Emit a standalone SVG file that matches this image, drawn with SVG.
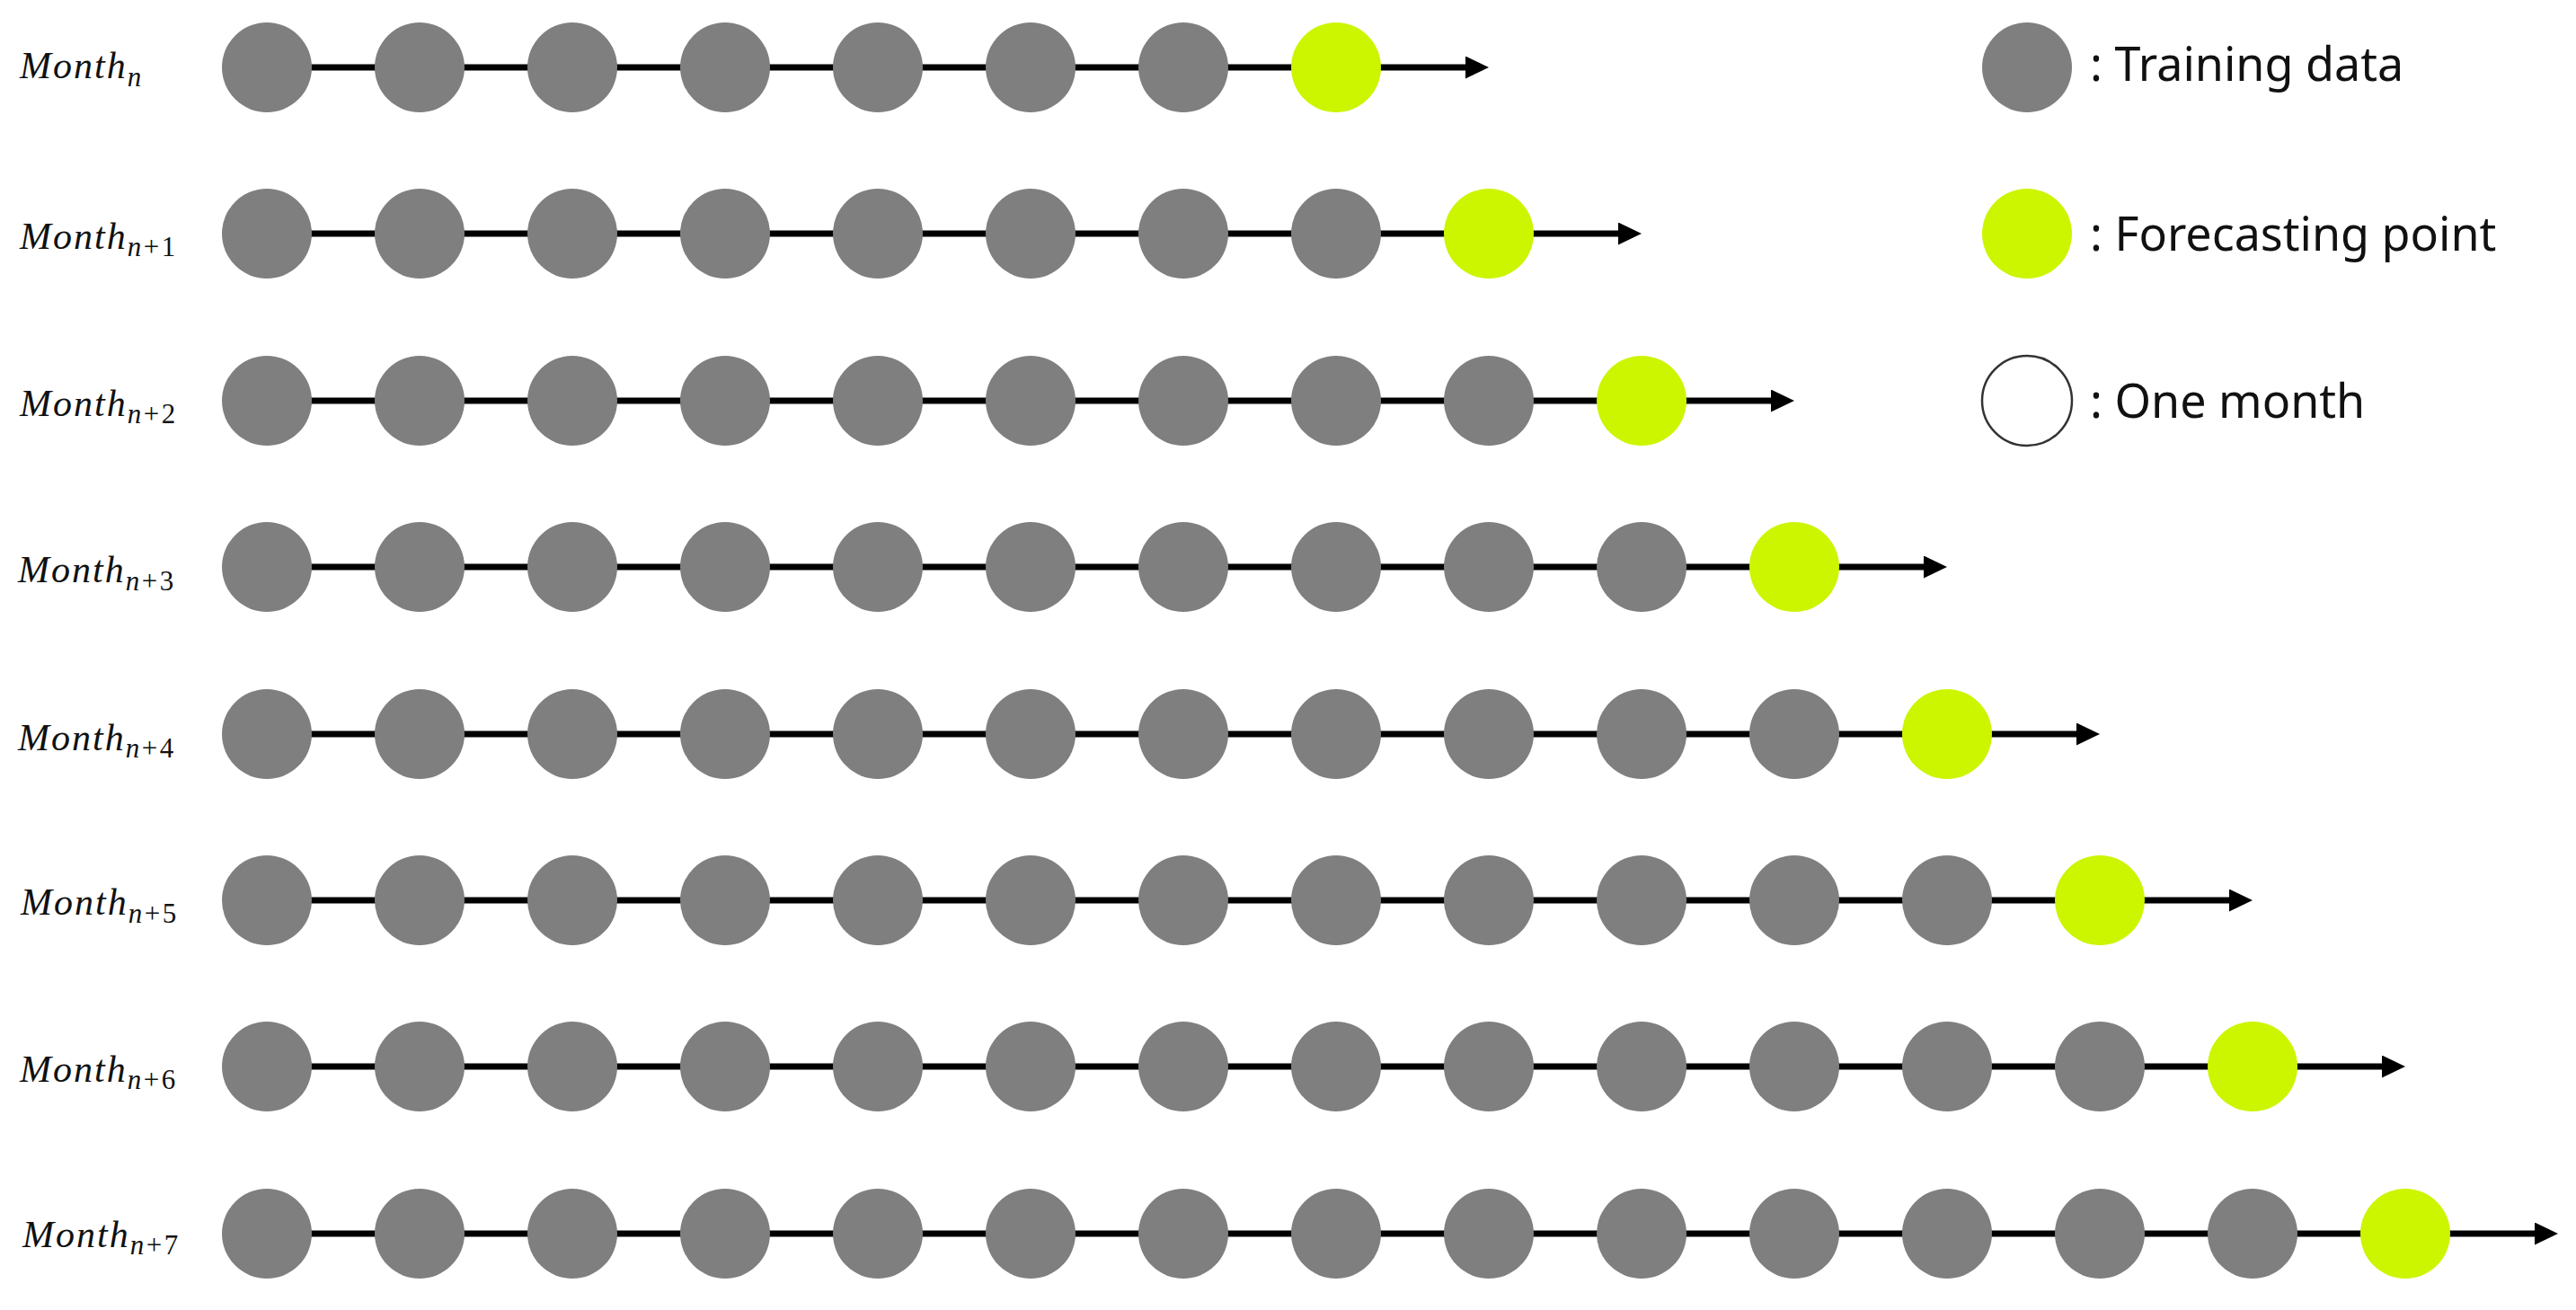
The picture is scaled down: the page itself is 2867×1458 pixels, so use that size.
<svg xmlns="http://www.w3.org/2000/svg" width="2867" height="1458" viewBox="0 0 2867 1458">
<style>
.t{fill:#7f7f7f}
.f{fill:#ccf500}
.ln{stroke:#000;stroke-width:7;fill:none;marker-end:url(#ah)}
.lb{font-family:"Liberation Serif",serif;font-style:italic;font-size:42px;letter-spacing:2px;fill:#111}
.sb{font-size:31px;letter-spacing:2.5px}
.up{font-style:normal}
.lg{font-family:"Noto Sans","Open Sans",sans-serif;font-size:52px;fill:#111}
</style>
<defs>
<marker id="ah" markerUnits="userSpaceOnUse" markerWidth="26" markerHeight="25" refX="6" refY="12.5" orient="auto">
<path d="M0,0 L26,12.5 L0,25 Z" fill="#000"/>
</marker>
</defs>
<rect width="2867" height="1458" fill="#fff"/>
<g id="connectors">
<line class="ln" x1="297" y1="75" x2="1637" y2="75"/>
<line class="ln" x1="297" y1="260" x2="1807" y2="260"/>
<line class="ln" x1="297" y1="446" x2="1977" y2="446"/>
<line class="ln" x1="297" y1="631" x2="2147" y2="631"/>
<line class="ln" x1="297" y1="817" x2="2317" y2="817"/>
<line class="ln" x1="297" y1="1002" x2="2487" y2="1002"/>
<line class="ln" x1="297" y1="1187" x2="2657" y2="1187"/>
<line class="ln" x1="297" y1="1373" x2="2827" y2="1373"/>
</g>
<g id="labels">
<text class="lb" x="22" y="87">Month<tspan class="sb" y="96">n</tspan></text>
<text class="lb" x="22" y="277">Month<tspan class="sb" y="285">n<tspan class="up">+1</tspan></tspan></text>
<text class="lb" x="22" y="463">Month<tspan class="sb" y="471">n<tspan class="up">+2</tspan></tspan></text>
<text class="lb" x="20" y="648">Month<tspan class="sb" y="657">n<tspan class="up">+3</tspan></tspan></text>
<text class="lb" x="20" y="835">Month<tspan class="sb" y="843">n<tspan class="up">+4</tspan></tspan></text>
<text class="lb" x="23" y="1018">Month<tspan class="sb" y="1027">n<tspan class="up">+5</tspan></tspan></text>
<text class="lb" x="22" y="1204">Month<tspan class="sb" y="1212">n<tspan class="up">+6</tspan></tspan></text>
<text class="lb" x="25" y="1388">Month<tspan class="sb" y="1396">n<tspan class="up">+7</tspan></tspan></text>
</g>
<g id="row1">
<g id="r1c1"><circle class="t" cx="297" cy="75" r="50"/></g>
<g id="r1c2"><circle class="t" cx="467" cy="75" r="50"/></g>
<g id="r1c3"><circle class="t" cx="637" cy="75" r="50"/></g>
<g id="r1c4"><circle class="t" cx="807" cy="75" r="50"/></g>
<g id="r1c5"><circle class="t" cx="977" cy="75" r="50"/></g>
<g id="r1c6"><circle class="t" cx="1147" cy="75" r="50"/></g>
<g id="r1c7"><circle class="t" cx="1317" cy="75" r="50"/></g>
<g id="r1c8"><circle class="f" cx="1487" cy="75" r="50"/></g>
</g>
<g id="row2">
<g id="r2c1"><circle class="t" cx="297" cy="260" r="50"/></g>
<g id="r2c2"><circle class="t" cx="467" cy="260" r="50"/></g>
<g id="r2c3"><circle class="t" cx="637" cy="260" r="50"/></g>
<g id="r2c4"><circle class="t" cx="807" cy="260" r="50"/></g>
<g id="r2c5"><circle class="t" cx="977" cy="260" r="50"/></g>
<g id="r2c6"><circle class="t" cx="1147" cy="260" r="50"/></g>
<g id="r2c7"><circle class="t" cx="1317" cy="260" r="50"/></g>
<g id="r2c8"><circle class="t" cx="1487" cy="260" r="50"/></g>
<g id="r2c9"><circle class="f" cx="1657" cy="260" r="50"/></g>
</g>
<g id="row3">
<g id="r3c1"><circle class="t" cx="297" cy="446" r="50"/></g>
<g id="r3c2"><circle class="t" cx="467" cy="446" r="50"/></g>
<g id="r3c3"><circle class="t" cx="637" cy="446" r="50"/></g>
<g id="r3c4"><circle class="t" cx="807" cy="446" r="50"/></g>
<g id="r3c5"><circle class="t" cx="977" cy="446" r="50"/></g>
<g id="r3c6"><circle class="t" cx="1147" cy="446" r="50"/></g>
<g id="r3c7"><circle class="t" cx="1317" cy="446" r="50"/></g>
<g id="r3c8"><circle class="t" cx="1487" cy="446" r="50"/></g>
<g id="r3c9"><circle class="t" cx="1657" cy="446" r="50"/></g>
<g id="r3c10"><circle class="f" cx="1827" cy="446" r="50"/></g>
</g>
<g id="row4">
<g id="r4c1"><circle class="t" cx="297" cy="631" r="50"/></g>
<g id="r4c2"><circle class="t" cx="467" cy="631" r="50"/></g>
<g id="r4c3"><circle class="t" cx="637" cy="631" r="50"/></g>
<g id="r4c4"><circle class="t" cx="807" cy="631" r="50"/></g>
<g id="r4c5"><circle class="t" cx="977" cy="631" r="50"/></g>
<g id="r4c6"><circle class="t" cx="1147" cy="631" r="50"/></g>
<g id="r4c7"><circle class="t" cx="1317" cy="631" r="50"/></g>
<g id="r4c8"><circle class="t" cx="1487" cy="631" r="50"/></g>
<g id="r4c9"><circle class="t" cx="1657" cy="631" r="50"/></g>
<g id="r4c10"><circle class="t" cx="1827" cy="631" r="50"/></g>
<g id="r4c11"><circle class="f" cx="1997" cy="631" r="50"/></g>
</g>
<g id="row5">
<g id="r5c1"><circle class="t" cx="297" cy="817" r="50"/></g>
<g id="r5c2"><circle class="t" cx="467" cy="817" r="50"/></g>
<g id="r5c3"><circle class="t" cx="637" cy="817" r="50"/></g>
<g id="r5c4"><circle class="t" cx="807" cy="817" r="50"/></g>
<g id="r5c5"><circle class="t" cx="977" cy="817" r="50"/></g>
<g id="r5c6"><circle class="t" cx="1147" cy="817" r="50"/></g>
<g id="r5c7"><circle class="t" cx="1317" cy="817" r="50"/></g>
<g id="r5c8"><circle class="t" cx="1487" cy="817" r="50"/></g>
<g id="r5c9"><circle class="t" cx="1657" cy="817" r="50"/></g>
<g id="r5c10"><circle class="t" cx="1827" cy="817" r="50"/></g>
<g id="r5c11"><circle class="t" cx="1997" cy="817" r="50"/></g>
<g id="r5c12"><circle class="f" cx="2167" cy="817" r="50"/></g>
</g>
<g id="row6">
<g id="r6c1"><circle class="t" cx="297" cy="1002" r="50"/></g>
<g id="r6c2"><circle class="t" cx="467" cy="1002" r="50"/></g>
<g id="r6c3"><circle class="t" cx="637" cy="1002" r="50"/></g>
<g id="r6c4"><circle class="t" cx="807" cy="1002" r="50"/></g>
<g id="r6c5"><circle class="t" cx="977" cy="1002" r="50"/></g>
<g id="r6c6"><circle class="t" cx="1147" cy="1002" r="50"/></g>
<g id="r6c7"><circle class="t" cx="1317" cy="1002" r="50"/></g>
<g id="r6c8"><circle class="t" cx="1487" cy="1002" r="50"/></g>
<g id="r6c9"><circle class="t" cx="1657" cy="1002" r="50"/></g>
<g id="r6c10"><circle class="t" cx="1827" cy="1002" r="50"/></g>
<g id="r6c11"><circle class="t" cx="1997" cy="1002" r="50"/></g>
<g id="r6c12"><circle class="t" cx="2167" cy="1002" r="50"/></g>
<g id="r6c13"><circle class="f" cx="2337" cy="1002" r="50"/></g>
</g>
<g id="row7">
<g id="r7c1"><circle class="t" cx="297" cy="1187" r="50"/></g>
<g id="r7c2"><circle class="t" cx="467" cy="1187" r="50"/></g>
<g id="r7c3"><circle class="t" cx="637" cy="1187" r="50"/></g>
<g id="r7c4"><circle class="t" cx="807" cy="1187" r="50"/></g>
<g id="r7c5"><circle class="t" cx="977" cy="1187" r="50"/></g>
<g id="r7c6"><circle class="t" cx="1147" cy="1187" r="50"/></g>
<g id="r7c7"><circle class="t" cx="1317" cy="1187" r="50"/></g>
<g id="r7c8"><circle class="t" cx="1487" cy="1187" r="50"/></g>
<g id="r7c9"><circle class="t" cx="1657" cy="1187" r="50"/></g>
<g id="r7c10"><circle class="t" cx="1827" cy="1187" r="50"/></g>
<g id="r7c11"><circle class="t" cx="1997" cy="1187" r="50"/></g>
<g id="r7c12"><circle class="t" cx="2167" cy="1187" r="50"/></g>
<g id="r7c13"><circle class="t" cx="2337" cy="1187" r="50"/></g>
<g id="r7c14"><circle class="f" cx="2507" cy="1187" r="50"/></g>
</g>
<g id="row8">
<g id="r8c1"><circle class="t" cx="297" cy="1373" r="50"/></g>
<g id="r8c2"><circle class="t" cx="467" cy="1373" r="50"/></g>
<g id="r8c3"><circle class="t" cx="637" cy="1373" r="50"/></g>
<g id="r8c4"><circle class="t" cx="807" cy="1373" r="50"/></g>
<g id="r8c5"><circle class="t" cx="977" cy="1373" r="50"/></g>
<g id="r8c6"><circle class="t" cx="1147" cy="1373" r="50"/></g>
<g id="r8c7"><circle class="t" cx="1317" cy="1373" r="50"/></g>
<g id="r8c8"><circle class="t" cx="1487" cy="1373" r="50"/></g>
<g id="r8c9"><circle class="t" cx="1657" cy="1373" r="50"/></g>
<g id="r8c10"><circle class="t" cx="1827" cy="1373" r="50"/></g>
<g id="r8c11"><circle class="t" cx="1997" cy="1373" r="50"/></g>
<g id="r8c12"><circle class="t" cx="2167" cy="1373" r="50"/></g>
<g id="r8c13"><circle class="t" cx="2337" cy="1373" r="50"/></g>
<g id="r8c14"><circle class="t" cx="2507" cy="1373" r="50"/></g>
<g id="r8c15"><circle class="f" cx="2677" cy="1373" r="50"/></g>
</g>
<g id="legend">
<g id="legend-training"><circle class="t" cx="2256" cy="75" r="50"/><text class="lg" x="2326" y="90">: Training data</text></g>
<g id="legend-forecast"><circle class="f" cx="2256" cy="260" r="50"/><text class="lg" x="2326" y="279">: Forecasting point</text></g>
<g id="legend-month"><circle cx="2256" cy="446" r="50" fill="#fff" stroke="#333" stroke-width="2.5"/><text class="lg" x="2326" y="465">: One month</text></g>
</g>
</svg>
